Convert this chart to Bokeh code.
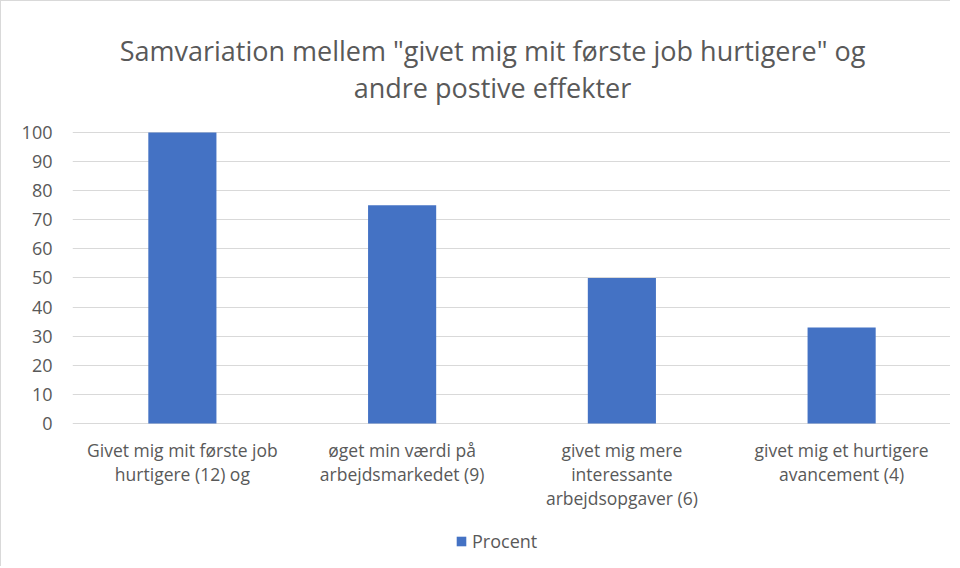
from bokeh.plotting import figure
from bokeh.models import FactorRange, Range1d, FixedTicker, ColumnDataSource, Legend, LegendItem, Label
from bokeh.core.properties import value
from bokeh.embed import file_html
from bokeh.resources import INLINE

title_lines = ['Samvariation mellem "givet mig mit første job hurtigere" og',
               'andre postive effekter']
categories = [
    "Givet mig mit første job\nhurtigere (12) og",
    "øget min værdi på\narbejdsmarkedet (9)",
    "givet mig mere\ninteressante\narbejdsopgaver (6)",
    "givet mig et hurtigere\navancement (4)",
]
procent = [100, 75, 50, 33]
y_ticks = [0, 10, 20, 30, 40, 50, 60, 70, 80, 90, 100]
series_name = "Procent"

FONT = "Open Sans"
GREY = "#595959"

W, H = 950, 566
BL = 71

p = figure(
    width=W, height=H,
    x_range=FactorRange(factors=categories, range_padding=0),
    y_range=Range1d(-49.5, 145.0),
    output_backend="svg", toolbar_location=None,
    min_border_left=BL, min_border_right=0, min_border_top=0, min_border_bottom=0,
    background_fill_color="white", border_fill_color="white",
)
p.styles = {"border-left": "1px solid #d9d9d9", "border-top": "1px solid #d9d9d9"}
p.outline_line_color = None
p.title = None

# title lines (frame covers the whole figure height, so screen units are frame-relative)
for line, y_screen in zip(title_lines, [517, 480]):
    p.add_layout(Label(x=420, y=y_screen, x_units="screen", y_units="screen",
                       text=line, text_align="center", text_baseline="middle",
                       text_font=FONT, text_font_size="27px", text_color=GREY))

src = ColumnDataSource(dict(cat=categories, val=procent, base=[0 for _ in categories]))
r = p.vbar(x="cat", top="val", width=0.31, source=src, fill_color="#4472C4", line_color=None)

# category labels under the zero line
p.text(x="cat", y="base", text="cat", source=src, y_offset=15,
       text_align="center", text_baseline="top", text_font=value(FONT),
       text_font_size="17.5px", text_color=GREY, text_line_height=1.0)

p.yaxis.ticker = FixedTicker(ticks=y_ticks)
p.yaxis.axis_line_color = None
p.yaxis.major_tick_line_color = None
p.yaxis.minor_tick_line_color = None
p.yaxis.major_label_text_font = FONT
p.yaxis.major_label_text_font_size = "18px"
p.yaxis.major_label_text_color = GREY
p.yaxis.major_label_standoff = 14

p.xaxis.visible = False
p.xgrid.grid_line_color = None
p.ygrid.grid_line_color = "#d9d9d9"
p.ygrid.grid_line_width = 1

legend = Legend(items=[LegendItem(label=series_name, renderers=[r])],
                location=(383, 14), orientation="horizontal",
                glyph_width=12, glyph_height=12, label_text_font=FONT,
                label_text_font_size="18px", label_text_color=GREY,
                border_line_color=None, background_fill_alpha=0,
                padding=4, spacing=4, label_standoff=5, margin=0)
p.add_layout(legend, "center")

open("out.html", "w").write(file_html(p, INLINE))
